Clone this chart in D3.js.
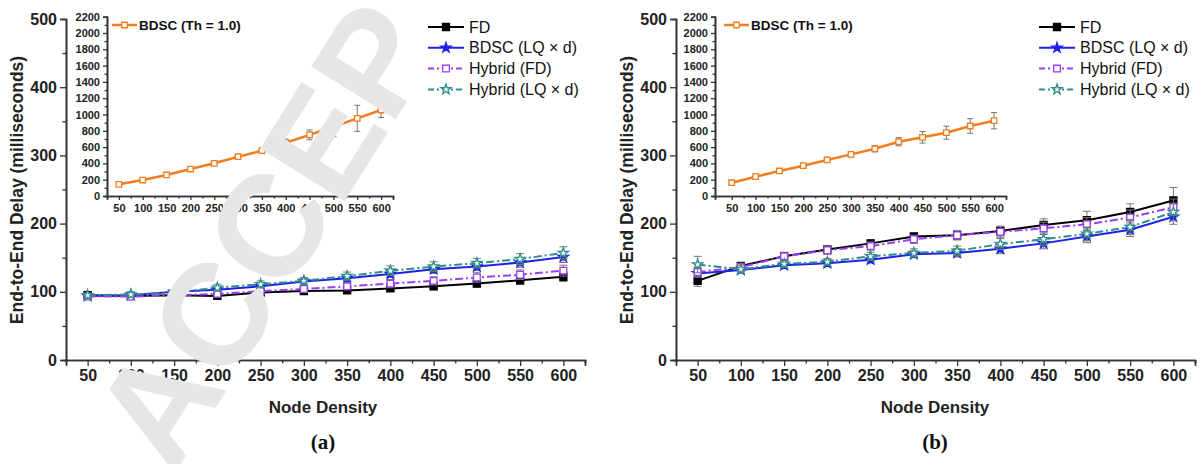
<!DOCTYPE html>
<html lang="en">
<head>
    <meta charset="UTF-8">
    <title>End-to-End Delay vs Node Density</title>
    <script src="https://cdnjs.cloudflare.com/ajax/libs/d3/7.8.5/d3.min.js"></script>
    <style>
        body { margin: 0; background: #fff; }
    </style>
</head>
<body>
<svg id="chart" width="1200" height="464" font-family="Arial, 'Liberation Sans', sans-serif"></svg>

<script>
    // node density (x values)
    var nodeDensity = [50, 100, 150, 200, 250, 300, 350, 400, 450, 500, 550, 600];
    var seriesNames = ['FD', 'BDSC (LQ \u00d7 d)', 'Hybrid (FD)', 'Hybrid (LQ \u00d7 d)'];
    var insetName = 'BDSC (Th = 1.0)';
    var mainTicksY = [0, 100, 200, 300, 400, 500];
    var insetTicksY = [0, 200, 400, 600, 800, 1000, 1200, 1400, 1600, 1800, 2000, 2200];

    // panel (a)
    var fdA     = [95, 94, 95, 94, 99, 101, 102, 105, 108, 112, 117, 122];
    var bdscA   = [94, 95, 100, 103, 108, 115, 120, 126, 133, 137, 143, 151];
    var hybFdA  = [93, 93, 95, 97, 101, 104, 108, 112, 116, 121, 125, 131];
    var hybLqA  = [95, 96, 99, 106, 111, 116, 123, 131, 137, 142, 148, 157];
    var fdErrA    = [3, 3, 3, 4, 4, 4, 4, 4, 5, 5, 6, 7];
    var bdscErrA  = [3, 3, 3, 4, 4, 5, 5, 5, 6, 6, 7, 8];
    var hybFdErrA = [3, 3, 3, 4, 4, 5, 5, 6, 6, 7, 7, 8];
    var hybLqErrA = [3, 4, 4, 5, 5, 5, 6, 7, 7, 7, 8, 9];
    var thA    = [143, 196, 258, 331, 401, 482, 556, 654, 750, 850, 953, 1055];
    var thErrA = [25, 25, 25, 25, 25, 25, 30, 45, 60, 122, 160, 92];

    // panel (b)
    var fdB     = [116, 138, 152, 162, 171, 181, 183, 189, 198, 205, 217, 234];
    var bdscB   = [127, 132, 139, 142, 147, 155, 157, 163, 171, 181, 191, 210];
    var hybFdB  = [129, 136, 152, 161, 167, 177, 183, 188, 193, 199, 209, 224];
    var hybLqB  = [140, 133, 141, 144, 152, 157, 160, 170, 177, 185, 195, 217];
    var fdErrB    = [8, 5, 5, 5, 5, 5, 6, 7, 9, 13, 12, 19];
    var bdscErrB  = [6, 5, 5, 5, 5, 5, 6, 7, 8, 9, 10, 11];
    var hybFdErrB = [7, 6, 6, 6, 6, 6, 7, 8, 9, 10, 11, 12];
    var hybLqErrB = [12, 6, 5, 5, 6, 6, 7, 8, 9, 10, 11, 13];
    var thB    = [163, 237, 307, 372, 442, 511, 580, 666, 720, 777, 859, 924];
    var thErrB = [30, 30, 30, 30, 30, 35, 40, 50, 70, 80, 90, 100];

    var styles = [
        {color: '#000000', dash: null, symbol: d3.symbolSquare, size: 50, filled: true},
        {color: '#1f22e6', dash: null, symbol: d3.symbolStar, size: 32, filled: true},
        {color: '#9b3df0', dash: '8,3,2,3', symbol: d3.symbolSquare, size: 45, filled: false},
        {color: '#2e8c8c', dash: '8,3,2,3', symbol: d3.symbolStar, size: 32, filled: false}
    ];
    var orange = '#f07d1e';
    var errColor = '#777';

    var svg = d3.select('#chart');

    var panels = [
        {
            label: '(a)', series: [fdA, bdscA, hybFdA, hybLqA], errs: [fdErrA, bdscErrA, hybFdErrA, hybLqErrA],
            th: thA, thErr: thErrA,
            mainX: [66, 585], insetX: [107, 393], insetDom: [25, 625],
            titleX: 17, xTitleX: 323, legendX: 428, insetLegendX: 112
        },
        {
            label: '(b)', series: [fdB, bdscB, hybFdB, hybLqB], errs: [fdErrB, bdscErrB, hybFdErrB, hybLqErrB],
            th: thB, thErr: thErrB,
            mainX: [676, 1195], insetX: [715, 1006], insetDom: [15, 625],
            titleX: 627, xTitleX: 935, legendX: 1039, insetLegendX: 724
        }
    ];

    panels.forEach(drawPanel);
    drawWatermark();

    function drawAxes(g, x, y, xTicks, xMinor, yTicks, yMinor, fontSize, tickLen) {
        var fmt = d3.format('d');
        var axisX = g.append('g')
                .attr('transform', 'translate(0,' + y.range()[0] + ')');
        axisX.call(d3.axisBottom(x).tickValues(xMinor).tickSize(tickLen * 0.6).tickFormat(''));
        axisX.append('g').call(d3.axisBottom(x).tickValues(xTicks).tickSize(tickLen).tickPadding(4).tickFormat(fmt));

        var axisY = g.append('g')
                .attr('transform', 'translate(' + x.range()[0] + ',0)');
        axisY.call(d3.axisLeft(y).tickValues(yMinor).tickSize(tickLen * 0.6).tickFormat(''));
        axisY.append('g').call(d3.axisLeft(y).tickValues(yTicks).tickSize(tickLen).tickPadding(3).tickFormat(fmt));

        g.selectAll('.domain').attr('stroke', '#333').attr('stroke-width', 1.6);
        g.selectAll('.tick line').attr('stroke', '#333').attr('stroke-width', 1.3);
        g.selectAll('.tick text')
                .attr('font-size', fontSize + 'px')
                .attr('font-weight', 'bold')
                .attr('font-family', 'Arial, "Liberation Sans", sans-serif')
                .attr('fill', '#222');
    }

    function drawMarker(g, st, cx, cy) {
        g.append('path')
                .attr('d', d3.symbol().type(st.symbol).size(st.size)())
                .attr('transform', 'translate(' + cx + ',' + cy + ')')
                .attr('fill', st.filled ? st.color : '#fff')
                .attr('stroke', st.color)
                .attr('stroke-width', 1.3);
    }

    function drawPanel(p) {
        var g = svg.append('g');
        var x = d3.scaleLinear().domain([25, 625]).range(p.mainX);
        var y = d3.scaleLinear().domain([0, 500]).range([360, 19]);

        var xMinor = d3.range(75, 626, 50);
        var yMinor = d3.range(50, 500, 100);
        drawAxes(g, x, y, nodeDensity, xMinor, mainTicksY, yMinor, 16, 6);

        var line = d3.line()
                .x(function (d) { return x(d.x); })
                .y(function (d) { return y(d.y); });

        p.series.forEach(function (vals, si) {
            var st = styles[si];
            var pts = nodeDensity.map(function (n, i) {
                return {x: n, y: vals[i], e: p.errs[si][i]};
            });
            var sg = g.append('g');
            // error bars
            pts.forEach(function (d) {
                sg.append('line')
                        .attr('x1', x(d.x)).attr('x2', x(d.x))
                        .attr('y1', y(d.y - d.e)).attr('y2', y(d.y + d.e))
                        .attr('stroke', errColor).attr('stroke-width', 1);
                [d.y - d.e, d.y + d.e].forEach(function (v) {
                    sg.append('line')
                            .attr('x1', x(d.x) - 4).attr('x2', x(d.x) + 4)
                            .attr('y1', y(v)).attr('y2', y(v))
                            .attr('stroke', errColor).attr('stroke-width', 1);
                });
            });
            sg.append('path')
                    .datum(pts)
                    .attr('d', line)
                    .attr('fill', 'none')
                    .attr('stroke', st.color)
                    .attr('stroke-width', 2)
                    .attr('stroke-dasharray', st.dash);
            pts.forEach(function (d) {
                drawMarker(sg, st, x(d.x), y(d.y));
            });
        });

        // axis titles
        g.append('text')
                .attr('transform', 'translate(' + (p.titleX + 6) + ',190) rotate(-90)')
                .attr('text-anchor', 'middle')
                .attr('font-size', '17.5px')
                .attr('font-weight', 'bold')
                .attr('fill', '#222')
                .text('End-to-End Delay (milliseconds)');
        g.append('text')
                .attr('x', p.xTitleX)
                .attr('y', 413)
                .attr('text-anchor', 'middle')
                .attr('font-size', '17px')
                .attr('font-weight', 'bold')
                .attr('fill', '#222')
                .text('Node Density');
        g.append('text')
                .attr('x', p.xTitleX)
                .attr('y', 449)
                .attr('text-anchor', 'middle')
                .attr('font-size', '21px')
                .attr('font-weight', 'bold')
                .attr('font-family', '"Liberation Serif", "Times New Roman", serif')
                .attr('fill', '#111')
                .text(p.label);

        // legend
        var lg = g.append('g');
        seriesNames.forEach(function (name, si) {
            var st = styles[si];
            var ly = 27 + si * 20.8;
            lg.append('line')
                    .attr('x1', p.legendX).attr('x2', p.legendX + 36)
                    .attr('y1', ly).attr('y2', ly)
                    .attr('stroke', st.color).attr('stroke-width', 2)
                    .attr('stroke-dasharray', st.dash ? '6,3,2,3' : null);
            drawMarker(lg, st, p.legendX + 18, ly);
            lg.append('text')
                    .attr('x', p.legendX + 41)
                    .attr('y', ly + 5.5)
                    .attr('font-size', '16px')
                    .attr('fill', '#111')
                    .text(name);
        });

        // inset chart
        var ig = g.append('g');
        var ix = d3.scaleLinear().domain(p.insetDom).range(p.insetX);
        var iy = d3.scaleLinear().domain([0, 2200]).range([196, 16.7]);
        drawAxes(ig, ix, iy, nodeDensity, d3.range(75, 601, 50), insetTicksY, d3.range(100, 2200, 200), 11, 4);

        var ipts = nodeDensity.map(function (n, i) {
            return {x: n, y: p.th[i], e: p.thErr[i]};
        });
        ipts.forEach(function (d) {
            ig.append('line')
                    .attr('x1', ix(d.x)).attr('x2', ix(d.x))
                    .attr('y1', iy(d.y - d.e)).attr('y2', iy(d.y + d.e))
                    .attr('stroke', errColor).attr('stroke-width', 1);
            [d.y - d.e, d.y + d.e].forEach(function (v) {
                ig.append('line')
                        .attr('x1', ix(d.x) - 3).attr('x2', ix(d.x) + 3)
                        .attr('y1', iy(v)).attr('y2', iy(v))
                        .attr('stroke', errColor).attr('stroke-width', 1);
            });
        });
        ig.append('path')
                .datum(ipts)
                .attr('d', d3.line().x(function (d) { return ix(d.x); }).y(function (d) { return iy(d.y); }))
                .attr('fill', 'none')
                .attr('stroke', orange)
                .attr('stroke-width', 2.5);
        var ist = {color: orange, symbol: d3.symbolSquare, size: 30, filled: false};
        ipts.forEach(function (d) {
            drawMarker(ig, ist, ix(d.x), iy(d.y));
        });

        ig.append('line')
                .attr('x1', p.insetLegendX).attr('x2', p.insetLegendX + 25)
                .attr('y1', 25).attr('y2', 25)
                .attr('stroke', orange).attr('stroke-width', 2.5);
        drawMarker(ig, ist, p.insetLegendX + 12.5, 25);
        ig.append('text')
                .attr('x', p.insetLegendX + 27)
                .attr('y', 30)
                .attr('font-size', '13.5px')
                .attr('font-weight', 'bold')
                .attr('fill', '#111')
                .text(insetName);
    }

    function drawWatermark() {
        svg.append('text')
                .attr('transform', 'translate(173,476) rotate(-58)')
                .attr('font-size', '145px')
                .attr('font-weight', 'bold')
                .attr('fill', '#e6e6e6')
                .text('ACCEP');
    }
</script>
</body>
</html>
